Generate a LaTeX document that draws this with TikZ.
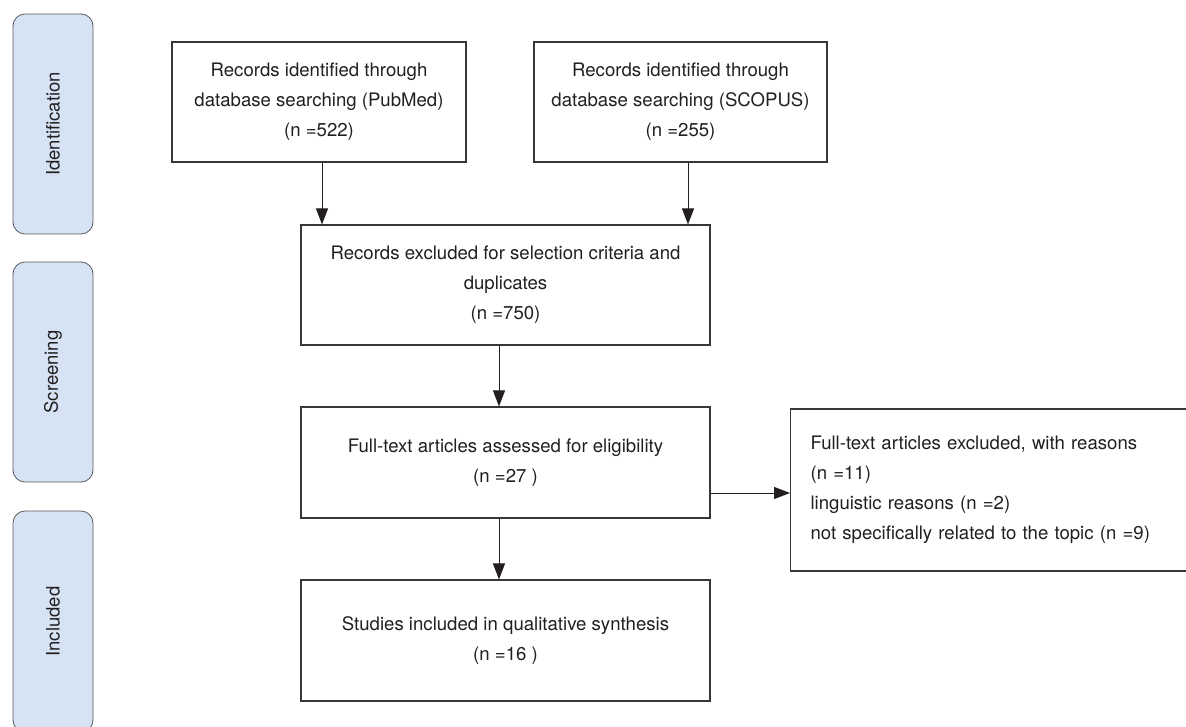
\documentclass[tikz,border=0pt]{standalone}
\usepackage{fontspec}
\setmainfont{TeX Gyre Heros}
\usetikzlibrary{arrows.meta,positioning}
\definecolor{ink}{HTML}{231F20}
\definecolor{edge}{HTML}{3A3536}
\definecolor{sidefill}{HTML}{D5E3F4}
\definecolor{sideedge}{HTML}{5A5A5A}
\tikzset{
  flowbox/.style={draw=edge, line width=1.1pt, fill=white, text=ink, align=center,
    inner sep=0pt, font=\fontsize{18.6}{30}\selectfont},
  sidebox/.style={draw=sideedge, line width=0.8pt, fill=sidefill, rounded corners=12pt,
    rotate=90, text=ink, inner sep=0pt, font=\fontsize{18.5}{22}\selectfont,
    minimum height=80pt},
  flowarrow/.style={draw=ink, line width=1pt, -{Triangle[length=16pt,width=12pt]}}
}
\begin{document}
\begin{tikzpicture}[x=1pt,y=-1pt]
\clip (0,0) rectangle (1186,727);
\fill[white] (0,0) rectangle (1186,727);
% side phase labels
\node[sidebox, minimum width=220pt] (idf) at (53,124) {Identification};
\node[sidebox, minimum width=220pt] (scr) at (53,372) {Screening};
\node[sidebox, minimum width=221pt] (inc) at (53,621.5) {Included};
% main boxes
\node[flowbox, minimum width=294pt, minimum height=120pt] (pub) at (319,102)
  {Records identified through\\database searching (PubMed)\\(n =522)};
\node[flowbox, minimum width=293pt, minimum height=120pt] (sco) at (680.5,102)
  {Records identified through\\database searching (SCOPUS)\\(n =255)};
\node[flowbox, minimum width=409pt, minimum height=120pt] (exc) at (505.5,285)
  {Records excluded for selection criteria and\\duplicates\\(n =750)};
\node[flowbox, minimum width=409pt, minimum height=111pt] (full) at (505.5,462.5)
  {Full-text articles assessed for eligibility\\(n =27 )};
\node[flowbox, minimum width=409pt, minimum height=121pt] (stud) at (505.5,640.5)
  {Studies included in qualitative synthesis\\(n =16 )};
\node[flowbox, align=left, anchor=west, text width=370pt, inner xsep=15pt,
  minimum width=410pt, minimum height=162pt] (fexc) at (790,490)
  {Full-text articles excluded, with reasons\\(n =11)\\linguistic reasons (n =2)\\not specifically related to the topic (n =9)};
% connectors
\draw[flowarrow] ([xshift=3pt]pub.south) -- ([xshift=3pt]pub.south |- exc.north);
\draw[flowarrow] ([xshift=7.5pt]sco.south) -- ([xshift=7.5pt]sco.south |- exc.north);
\draw[flowarrow] ([xshift=-6.5pt]exc.south) -- ([xshift=-6.5pt]exc.south |- full.north);
\draw[flowarrow] ([xshift=-6.5pt]full.south) -- ([xshift=-6.5pt]full.south |- stud.north);
\draw[flowarrow] ([yshift=-30.5pt]full.east) -- ([yshift=-30.5pt]full.east -| fexc.west);
\end{tikzpicture}
\end{document}
